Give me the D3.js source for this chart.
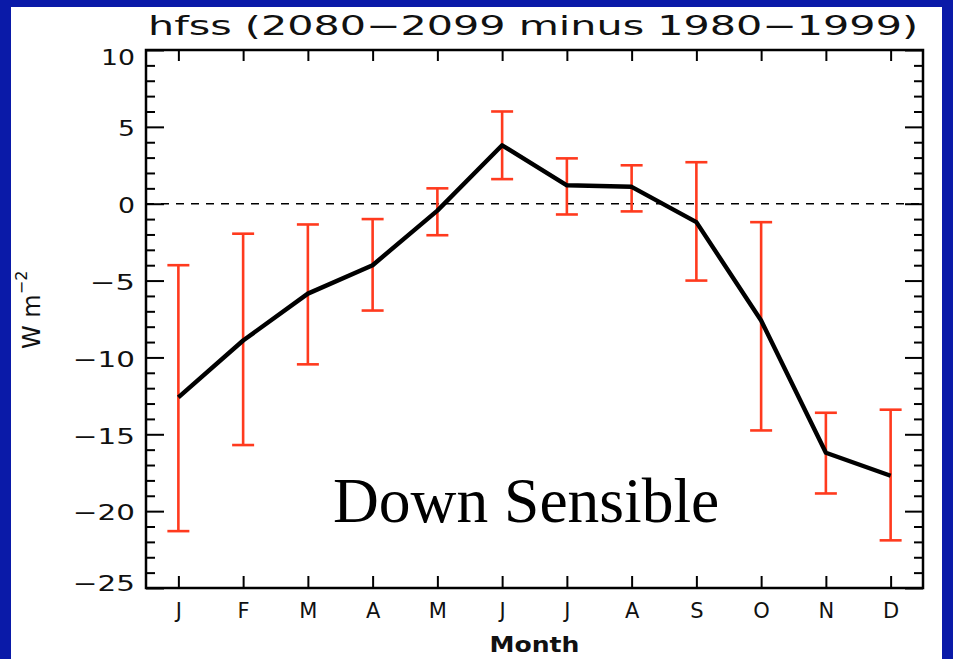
<!DOCTYPE html>
<html>
<head>
<meta charset="utf-8">
<script src="https://cdn.jsdelivr.net/npm/d3@7"></script>
<style>
  body { margin: 0; background: #fff; }
  svg { display: block; }
</style>
</head>
<body>
<svg width="953" height="659"></svg>
<script>
const months = ['J', 'F', 'M', 'A', 'M', 'J', 'J', 'A', 'S', 'O', 'N', 'D'];
const meanDiff = [-12.6, -8.9, -5.85, -4.0, -0.45, 3.8, 1.2, 1.1, -1.2, -7.6, -16.2, -17.7];
const rangeHigh = [-4.0, -1.95, -1.35, -1.0, 1.0, 6.0, 2.95, 2.5, 2.7, -1.2, -13.6, -13.4];
const rangeLow = [-21.3, -15.7, -10.45, -6.95, -2.05, 1.6, -0.7, -0.5, -5.0, -14.75, -18.85, -21.9];
const yMajor = [-25, -20, -15, -10, -5, 0, 5, 10];
const yMinor = d3.range(-24, 10, 1).filter(v => v % 5 !== 0);

const svg = d3.select('svg');
const W = 953, H = 659;
const pLeft = 146, pRight = 923, pTop = 50, pBottom = 588;

const x = d3.scaleLinear().domain([0.5, 12.5]).range([pLeft, pRight]);
const y = d3.scaleLinear().domain([-25, 10]).range([pBottom, pTop]);

svg.append('rect').attr('width', W).attr('height', H).attr('fill', '#fff');

const data = months.map((m, i) => ({ m: i + 1, v: meanDiff[i], hi: rangeHigh[i], lo: rangeLow[i] }));

// axes - ticks point inward
const fmt = d => (d < 0 ? '\u2212' + Math.abs(d) : '' + d);

const gl = svg.append('g').attr('transform', `translate(${pLeft},0)`)
  .call(d3.axisLeft(y).tickValues(yMajor).tickSize(-18).tickPadding(11).tickFormat(fmt));
gl.append('g').call(d3.axisLeft(y).tickValues(yMinor).tickSize(-9).tickFormat(''));

const gr = svg.append('g').attr('transform', `translate(${pRight},0)`)
  .call(d3.axisRight(y).tickValues(yMajor).tickSize(-18).tickFormat(''));
gr.append('g').call(d3.axisRight(y).tickValues(yMinor).tickSize(-9).tickFormat(''));

const gb = svg.append('g').attr('transform', `translate(0,${pBottom})`)
  .call(d3.axisBottom(x).tickValues(d3.range(1, 13)).tickSize(-12).tickPadding(19)
    .tickFormat(d => months[d - 1]));

const gt = svg.append('g').attr('transform', `translate(0,${pTop})`)
  .call(d3.axisTop(x).tickValues(d3.range(1, 13)).tickSize(-11).tickFormat(''));

svg.selectAll('.domain').remove();
svg.selectAll('.tick line').attr('stroke', '#000').attr('stroke-width', 2);

gl.selectAll('text')
  .attr('font-family', 'DejaVu Sans, sans-serif')
  .attr('font-size', 21)
  .attr('fill', '#111')
  .attr('dy', d => (d === 10 ? '0.7em' : d === -25 ? '0.1em' : '0.42em'))
  .attr('textLength', d => String(Math.abs(d)).length * 17 + (d < 0 ? 28 : 0))
  .attr('lengthAdjust', 'spacingAndGlyphs');

gb.selectAll('text')
  .attr('font-family', 'DejaVu Sans, sans-serif')
  .attr('font-size', 21)
  .attr('fill', '#111')
  .attr('dy', '0.5em');

// frame
svg.append('rect')
  .attr('x', pLeft).attr('y', pTop)
  .attr('width', pRight - pLeft).attr('height', pBottom - pTop)
  .attr('fill', 'none').attr('stroke', '#000').attr('stroke-width', 2.5);

// zero line
svg.append('line')
  .attr('x1', pLeft).attr('x2', pRight)
  .attr('y1', y(0)).attr('y2', y(0))
  .attr('stroke', '#000').attr('stroke-width', 1.6)
  .attr('stroke-dasharray', '8,7');

// error bars
const red = '#ff3a1e';
const eb = svg.append('g').attr('stroke', red).attr('stroke-width', 2.6);
eb.selectAll('line.v').data(data).enter().append('line').attr('class', 'v')
  .attr('x1', d => x(d.m)).attr('x2', d => x(d.m))
  .attr('y1', d => y(d.hi)).attr('y2', d => y(d.lo));
eb.selectAll('line.h').data(data).enter().append('line').attr('class', 'h')
  .attr('x1', d => x(d.m) - 11).attr('x2', d => x(d.m) + 11)
  .attr('y1', d => y(d.hi)).attr('y2', d => y(d.hi));
eb.selectAll('line.l').data(data).enter().append('line').attr('class', 'l')
  .attr('x1', d => x(d.m) - 11).attr('x2', d => x(d.m) + 11)
  .attr('y1', d => y(d.lo)).attr('y2', d => y(d.lo));

// mean line
svg.append('path').datum(data)
  .attr('fill', 'none').attr('stroke', '#000').attr('stroke-width', 4.4)
  .attr('stroke-linejoin', 'round')
  .attr('d', d3.line().x(d => x(d.m)).y(d => y(d.v)));

// title
svg.append('text')
  .attr('x', 148).attr('y', 35)
  .attr('font-family', 'DejaVu Sans, sans-serif').attr('font-size', 27)
  .attr('fill', '#111')
  .attr('textLength', 770).attr('lengthAdjust', 'spacingAndGlyphs')
  .text('hfss (2080\u22122099 minus 1980\u22121999)');

// x label
svg.append('text')
  .attr('x', (pLeft + pRight) / 2).attr('y', 652)
  .attr('text-anchor', 'middle')
  .attr('font-family', 'DejaVu Sans, sans-serif').attr('font-size', 21)
  .attr('font-weight', 'bold').attr('fill', '#111')
  .attr('textLength', 90).attr('lengthAdjust', 'spacingAndGlyphs')
  .text('Month');

// y label
const yl = svg.append('text')
  .attr('transform', 'translate(40,349) rotate(-90)')
  .attr('font-family', 'DejaVu Sans, sans-serif').attr('font-size', 24)
  .attr('fill', '#111');
yl.append('tspan').text('W m');
yl.append('tspan').attr('dy', -13).attr('font-size', 16).text('\u22122');

// annotation
svg.append('text')
  .attr('x', 333).attr('y', 522)
  .attr('font-family', 'Liberation Serif, Times New Roman, serif')
  .attr('font-size', 63.5).attr('fill', '#000')
  .text('Down Sensible');

// blue border
const blue = '#0a1aa8';
svg.append('rect').attr('x', 0).attr('y', 0).attr('width', 11).attr('height', H).attr('fill', blue);
svg.append('rect').attr('x', 942).attr('y', 0).attr('width', 11).attr('height', H).attr('fill', blue);
svg.append('rect').attr('x', 0).attr('y', 0).attr('width', W).attr('height', 7).attr('fill', blue);
</script>
</body>
</html>
